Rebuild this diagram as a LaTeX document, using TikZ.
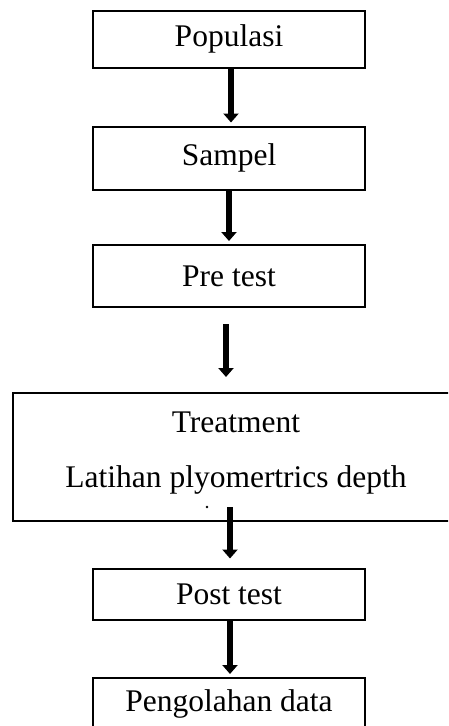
\documentclass[tikz,border=0pt]{standalone}
\usepackage{fontspec}
\setmainfont{Liberation Serif}
\usetikzlibrary{arrows.meta}

\tikzset{
  box/.style={draw, line width=2pt, minimum width=272pt, inner sep=0pt,
    font=\fontsize{31.5}{55}\selectfont},
  arr/.style={line width=6pt, -{Triangle[length=9pt,width=15pt]}}
}

\begin{document}
\begin{tikzpicture}[x=1pt,y=-1pt]
  \useasboundingbox (0,0) rectangle (448,726);
  \clip (0,0) rectangle (448,726);

  % Boxes
  \node[box, minimum height=57pt] (pop)   at (229,39)  {Populasi};
  \node[box, minimum height=63pt] (samp)  at (229,158) {Sampel};
  \node[box, minimum height=62pt] (pre)   at (229,276) {Pre test};
  \node[box, minimum height=128pt, minimum width=446pt, align=center,
        text depth=15pt]
        (treat) at (236,457) {Treatment\\Latihan plyomertrics depth};
  \node[box, minimum height=51pt] (post)  at (229,594) {Post test};
  \node[box, minimum height=52pt, anchor=north] (peng) at (229,677)
        {Pengolahan data};
  \fill (207,507) circle (1.4pt);

  % Arrows
  \draw[arr] ([xshift=2pt]pop.south)   -- ([xshift=2pt,yshift=3pt]samp.north);
  \draw[arr] (samp.south)              -- ([yshift=3pt]pre.north);
  \draw[arr, shorten <=16pt, shorten >=15pt]
             ([xshift=-3pt]pre.south)  -- ([xshift=-10pt]treat.north);
  \draw[arr, shorten <=-15pt, shorten >=9pt]
             ([xshift=-6pt]treat.south) -- ([xshift=1pt]post.north);
  \draw[arr] ([xshift=1pt]post.south)  -- ([xshift=1pt,yshift=3pt]peng.north);

\end{tikzpicture}
\end{document}
